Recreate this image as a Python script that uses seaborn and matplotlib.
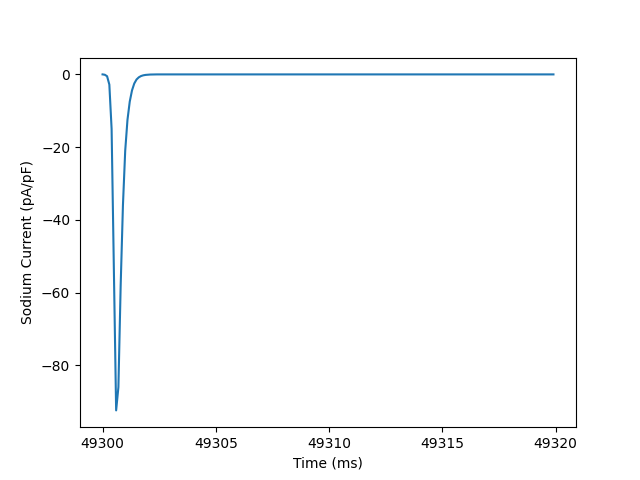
import numpy as np
import pandas as pd
import matplotlib
matplotlib.use("Agg")
import matplotlib.pyplot as plt
import seaborn as sns

# Spike region (ms offsets from 49300, sampled at 0.1 ms) and current values
spike_offsets = [0.0, 0.1, 0.2, 0.3, 0.4, 0.5, 0.6, 0.7, 0.8, 0.9,
                 1.0, 1.1, 1.2, 1.3, 1.4, 1.5, 1.6, 1.7, 1.8, 1.9,
                 2.0, 2.1, 2.2]
spike_current = [0.0, -0.1, -0.5, -2.8, -15.0, -53.0, -92.4, -86.0, -58.0, -36.0,
                 -21.0, -12.5, -7.5, -4.4, -2.5, -1.4, -0.8, -0.45, -0.25, -0.14,
                 -0.08, -0.04, -0.02]
t_start = 49300.0
t_end = 49319.9
step = 0.1

x_ticks = [49300, 49305, 49310, 49315, 49320]
x_tick_labels = ["49300", "49305", "49310", "49315", "49320"]

n_total = int(round((t_end - t_start) / step)) + 1
time = t_start + np.arange(n_total) * step
current = np.zeros(n_total)
current[:len(spike_current)] = spike_current

df = pd.DataFrame({"Time (ms)": time, "Sodium Current (pA/pF)": current})

plt.rcdefaults()
fig, ax = plt.subplots(figsize=(6.4, 4.8), dpi=100)
sns.lineplot(data=df, x="Time (ms)", y="Sodium Current (pA/pF)", ax=ax, color="#1f77b4")
ax.set_xticks(x_ticks)
ax.set_xticklabels(x_tick_labels)
ax.set_xlabel("Time (ms)")
ax.set_ylabel("Sodium Current (pA/pF)")
fig.savefig("out.png", dpi=100)
